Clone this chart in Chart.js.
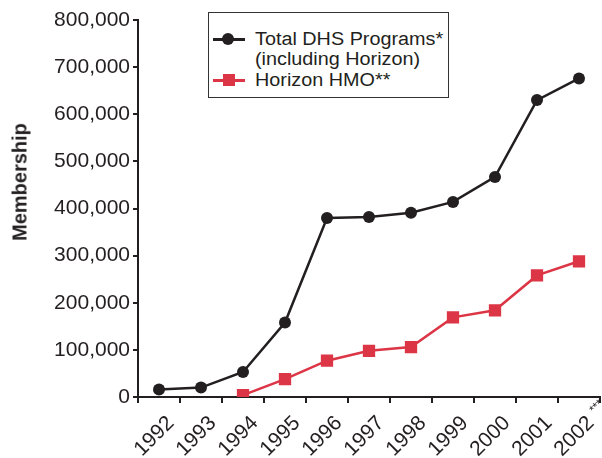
<!DOCTYPE html>
<html>
<head>
<meta charset="utf-8">
<script src="https://cdn.jsdelivr.net/npm/chart.js@4.4.0/dist/chart.umd.min.js"></script>
<style>
  html, body { margin: 0; padding: 0; background: #fff; }
  #wrap { position: relative; width: 602px; height: 458px; font-family: "Liberation Sans", Arial, sans-serif; color: #231f20; }
  #yTitle {
    position: absolute; left: 20px; top: 182px;
    transform: translate(-50%, -50%) rotate(-90deg);
    font-weight: bold; font-size: 20px; white-space: nowrap;
  }
  #legend {
    position: absolute; left: 208px; top: 12px; width: 241px; height: 86px;
    border: 1px solid #333; box-sizing: border-box; background: #fff;
  }
  .row { position: absolute; left: 0; height: 20px; }
  .sample { position: absolute; left: 4px; width: 32px; top: 9px; height: 3px; }
  .dot { position: absolute; left: 13px; top: 4px; width: 12px; height: 12px; border-radius: 50%; background: #231f20; }
  .sq { position: absolute; left: 14px; top: 4px; width: 12px; height: 12px; background: #dc3545; }
  .txt { position: absolute; left: 46px; top: 0; font-size: 18px; line-height: 20px; white-space: nowrap; transform: scaleX(1.1); transform-origin: left center; }
</style>
</head>
<body>
<div id="wrap">
  <canvas id="chart" width="602" height="458"></canvas>
  <div id="yTitle">Membership</div>
  <div id="legend">
    <div class="row" style="top:16px;">
      <div class="sample" style="background:#231f20;"></div><div class="dot"></div>
      <div class="txt">Total DHS Programs*</div>
    </div>
    <div class="row" style="top:36px;">
      <div class="txt">(including Horizon)</div>
    </div>
    <div class="row" style="top:57px;">
      <div class="sample" style="background:#dc3545;"></div><div class="sq"></div>
      <div class="txt">Horizon HMO**</div>
    </div>
  </div>
</div>
<script>
// Membership data
const years = ['1992', '1993', '1994', '1995', '1996', '1997', '1998', '1999', '2000', '2001', '2002'];
const yearNotes = ['', '', '', '', '', '', '', '', '', '', '***'];
const totalDhs = [16000, 20000, 53000, 158000, 380000, 382000, 391000, 414000, 467000, 630000, 676000];
const horizonHmo = [null, null, 4000, 38000, 77000, 98000, 106000, 169000, 184000, 258000, 288000];
const yMax = 800000;
const yStep = 100000;

const ink = '#231f20';
const red = '#dc3545';
const tickFont = "'Liberation Sans', Arial, sans-serif";
const xLabelOffset = 12, xPad = 8, xTickLen = 6, xFontSize = 21;

// small superscript footnote marks after a rotated year label
const footnoteMarks = {
    id: 'footnoteMarks',
    afterDraw(chart) {
        const xs = chart.scales.x, ctx = chart.ctx;
        yearNotes.forEach((note, i) => {
            if (!note) return;
            const x = xs.getPixelForTick(i) + xLabelOffset;
            const y = xs.top + xTickLen + xPad;
            ctx.save();
            ctx.translate(x, y);
            ctx.rotate(-Math.PI / 4);
            ctx.font = '12px ' + tickFont;
            ctx.fillStyle = ink;
            ctx.textAlign = 'left';
            ctx.textBaseline = 'middle';
            ctx.fillText(note, 0, 1);
            ctx.restore();
        });
    }
};

new Chart(document.getElementById('chart').getContext('2d'), {
    type: 'line',
    data: {
        labels: years,
        datasets: [
            {
                label: 'Total DHS Programs*',
                data: totalDhs,
                borderColor: ink,
                backgroundColor: ink,
                borderWidth: 2.5,
                pointRadius: 6,
                pointStyle: 'circle',
                pointBorderWidth: 0,
                tension: 0
            },
            {
                label: 'Horizon HMO**',
                data: horizonHmo,
                borderColor: red,
                backgroundColor: red,
                borderWidth: 2.5,
                pointRadius: 8.7,
                pointStyle: 'rect',
                pointBorderWidth: 0,
                tension: 0
            }
        ]
    },
    plugins: [footnoteMarks],
    options: {
        responsive: false,
        animation: false,
        layout: { autoPadding: false, padding: { left: 0, right: 2, top: 20, bottom: 0 } },
        plugins: { legend: { display: false }, tooltip: { enabled: false } },
        scales: {
            x: {
                offset: true,
                grid: { offset: true, drawOnChartArea: false, drawTicks: true, tickLength: xTickLen, color: ink, lineWidth: 2 },
                border: { display: true, color: ink, width: 2 },
                ticks: {
                    autoSkip: false, minRotation: 45, maxRotation: 45, padding: xPad, labelOffset: xLabelOffset,
                    color: ink, font: { family: tickFont, size: xFontSize }
                },
                afterFit: (s) => { s.height = 61; s.paddingLeft = 0; s.paddingRight = 0; }
            },
            y: {
                min: 0, max: yMax,
                grid: { drawOnChartArea: false, drawTicks: true, tickLength: 5, color: ink, lineWidth: 2 },
                border: { display: true, color: ink, width: 2 },
                ticks: {
                    stepSize: yStep, padding: 3, color: ink,
                    font: { family: tickFont, size: 21 },
                    callback: v => v.toLocaleString('en-US')
                },
                afterFit: (s) => { s.width = 138; }
            }
        }
    }
});
</script>
</body>
</html>
